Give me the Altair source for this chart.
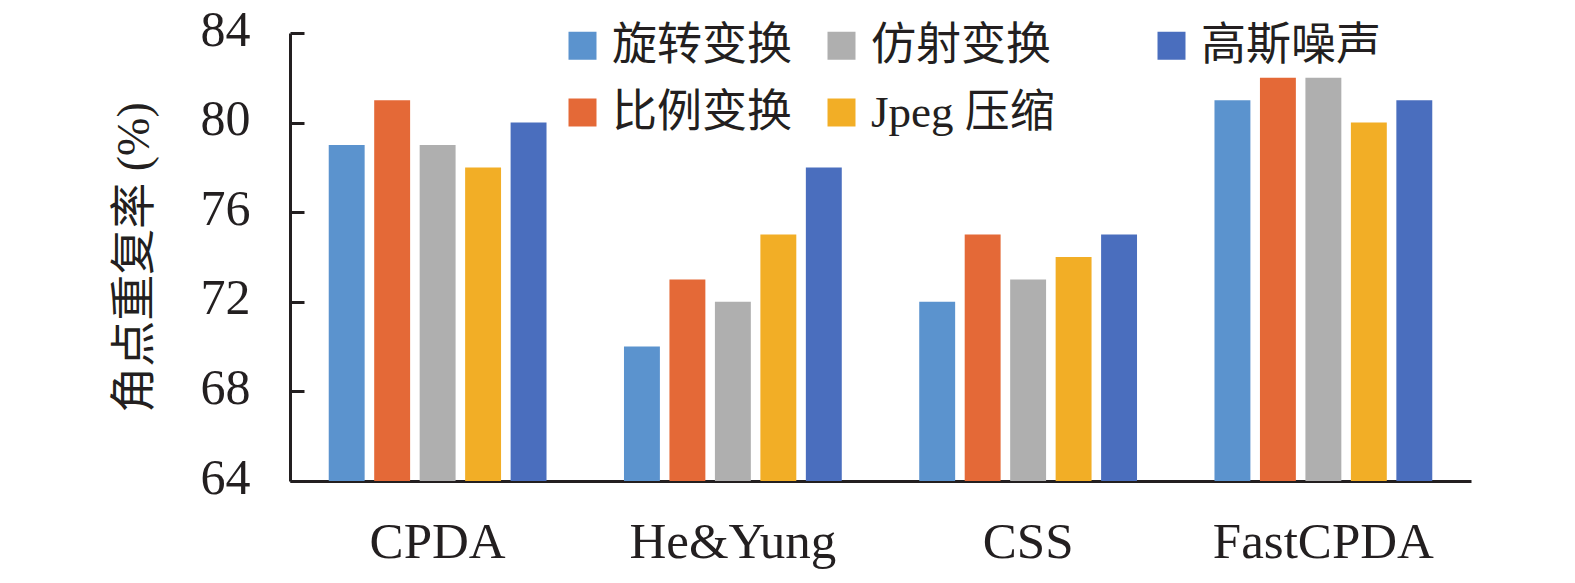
import altair as alt
import pandas as pd

methods = ["CPDA", "He&Yung", "CSS", "FastCPDA"]
series = ["旋转变换", "比例变换", "仿射变换", "Jpeg 压缩", "高斯噪声"]
rotation = [79, 70, 72, 81]
scaling = [81, 73, 75, 82]
affine = [79, 72, 73, 82]
jpeg = [78, 75, 74, 80]
gauss = [80, 78, 75, 81]
y_ticks = [64, 68, 72, 76, 80, 84]
series_colors = ["#5B93CE", "#E46937", "#AFAFAF", "#F2AE26", "#4A6EBE"]

values_by_series = [rotation, scaling, affine, jpeg, gauss]
rows = []
for s, vals in zip(series, values_by_series):
    for m, v in zip(methods, vals):
        rows.append({"method": m, "series": s, "value": v})
df = pd.DataFrame(rows)

FONT = "Liberation Serif, Noto Sans CJK SC"
INK = "#231F20"
PAD = "\u00a0" * 6 + "\u200b"

y_scale = alt.Scale(domain=[64, 84], nice=False, zero=False)
x_scale = alt.Scale(paddingInner=0.23, paddingOuter=0.115)

bars = alt.Chart(df).mark_bar(clip=True).encode(
    x=alt.X("method:N", sort=methods, scale=x_scale,
            axis=alt.Axis(title=None, labelAngle=0, ticks=False, tickSize=0,
                          labelPadding=36, labelFontSize=51, labelFont=FONT,
                          labelLimit=400,
                          labelColor=INK, domainColor=INK, domainWidth=3)),
    xOffset=alt.XOffset("series:N", sort=series,
                        scale=alt.Scale(paddingInner=0.21, paddingOuter=0.105)),
    y=alt.Y("value:Q", scale=y_scale,
            axis=alt.Axis(title="角点重复率 (%)", values=y_ticks, grid=False,
                          ticks=False, tickSize=0, labelPadding=40, labelOffset=-3,
                          labelFontSize=50, labelFont=FONT, labelColor=INK,
                          domainColor=INK, domainWidth=3,
                          titleFont=FONT, titleFontSize=46, titleFontWeight="normal",
                          titleColor=INK, titlePadding=42)),
    color=alt.Color("series:N",
                    scale=alt.Scale(domain=series, range=series_colors),
                    legend=alt.Legend(title=None, orient="none", legendX=270, legendY=-10,
                                      columns=3, symbolType="square", symbolSize=784,
                                      symbolStrokeWidth=0, labelFontSize=45, labelFont=FONT,
                                      labelColor=INK, labelOffset=7, rowPadding=21,
                                      columnPadding=26, padding=0, labelLimit=800,
                                      labelExpr="(datum.label == '仿射变换' || datum.label == 'Jpeg 压缩') ? datum.label + '" + PAD + "' : datum.label")),
)

ticks_layer = alt.Chart(df).mark_bar(opacity=0, clip=True).encode(
    x=alt.X("method:N", sort=methods, scale=x_scale),
    y=alt.Y("value:Q", scale=y_scale,
            axis=alt.Axis(orient="left", offset=-14, title=None, values=y_ticks,
                          grid=False, domain=False, labels=False, ticks=True,
                          tickSize=14, tickWidth=3, tickColor=INK)),
)

chart = alt.layer(bars, ticks_layer).resolve_axis(y="independent").properties(
    width=1181,
    height=448,
    autosize=alt.AutoSizeParams(type="none"),
    padding={"left": 282, "top": 25, "right": 90, "bottom": 90},
).configure_view(stroke=None)

chart.save("out.html", embed_options={"renderer": "svg", "actions": False})
